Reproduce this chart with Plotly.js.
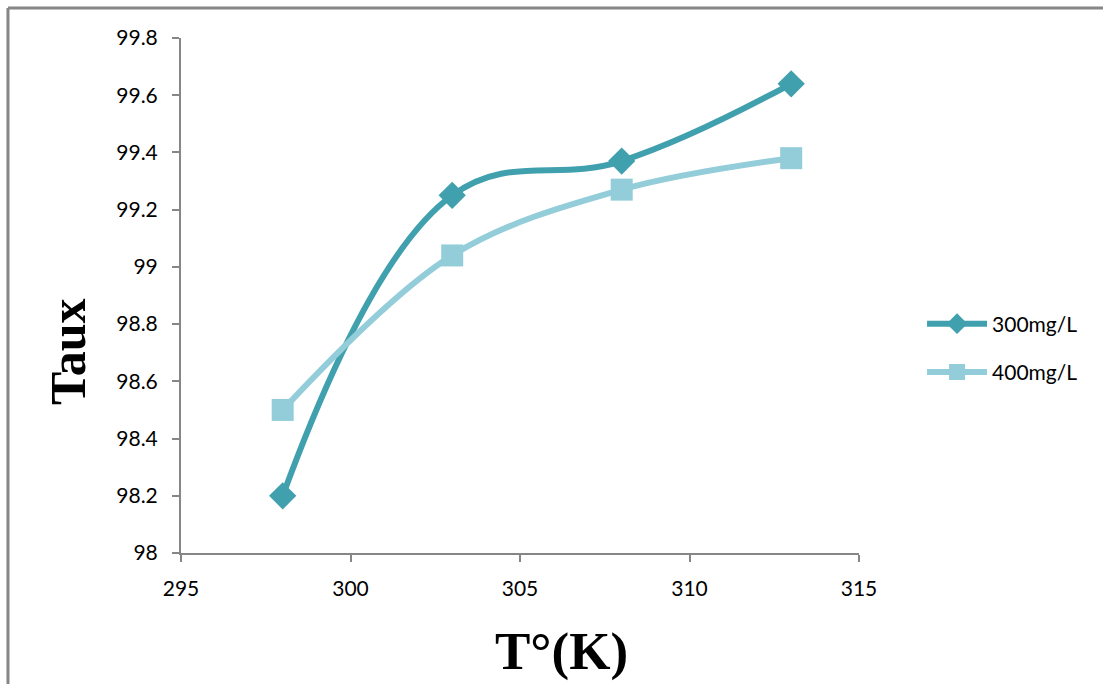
<!DOCTYPE html>
<html>
<head>
<meta charset="utf-8">
<script src="https://cdn.plot.ly/plotly-3.0.1.min.js"></script>
<style>
  html, body { margin: 0; padding: 0; background: #ffffff; }
  #chart { width: 1103px; height: 684px; }
</style>
</head>
<body>
<div id="chart"></div>
<script>
// Temperatures (K) and removal rate (%) for each initial concentration
const temperatures = [298, 303, 308, 313];
const taux300 = [98.2, 99.25, 99.37, 99.64];
const taux400 = [98.5, 99.04, 99.27, 99.38];
const seriesNames = ['300mg/L', '400mg/L'];
const xTitle = 'T°(K)';
const yTitle = 'Taux';

const tickFont = { family: 'Lato, "Open Sans", sans-serif', size: 21, color: '#000000' };
const titleFont = { family: '"Liberation Serif", "Times New Roman", serif', color: '#000000', weight: 'bold' };
const axisGray = '#868686';

const traces = [
  {
    x: temperatures, y: taux300, name: seriesNames[0], legendgroup: 'a',
    type: 'scatter', mode: 'lines+markers',
    line: { color: '#41A0AE', width: 6, shape: 'spline', smoothing: 1.15 },
    marker: { symbol: 'diamond', size: 21, color: '#41A0AE' }
  },
  {
    x: temperatures, y: taux400, name: seriesNames[1], legendgroup: 'b',
    type: 'scatter', mode: 'lines+markers',
    line: { color: '#93CDDA', width: 6, shape: 'spline', smoothing: 1 },
    marker: { symbol: 'square', size: 22, color: '#93CDDA' }
  }
];

const layout = {
  width: 1103, height: 684,
  margin: { l: 181, r: 244, t: 38, b: 131 },
  paper_bgcolor: '#ffffff', plot_bgcolor: '#ffffff',
  showlegend: true,
  xaxis: {
    range: [295, 315], dtick: 5, tick0: 295,
    showgrid: false, zeroline: false,
    showline: true, linecolor: axisGray, linewidth: 2,
    ticks: 'outside', ticklen: 7, tickwidth: 2, tickcolor: axisGray,
    tickfont: tickFont, ticklabelstandoff: 9
  },
  yaxis: {
    range: [98, 99.8], dtick: 0.2, tick0: 98,
    showgrid: false, zeroline: false,
    showline: true, linecolor: axisGray, linewidth: 2,
    ticks: 'outside', ticklen: 7, tickwidth: 2, tickcolor: axisGray,
    tickfont: tickFont, ticklabelstandoff: 10,
    tickformat: '~r'
  },
  legend: {
    x: 1.093, y: 0.398, xanchor: 'left', yanchor: 'middle',
    font: { family: 'Lato, "Open Sans", sans-serif', size: 21, color: '#000000' },
    itemwidth: 60, tracegroupgap: 18,
    bgcolor: 'rgba(0,0,0,0)'
  },
  annotations: [
    { text: xTitle, xref: 'paper', yref: 'paper', x: (561 - 181) / 678, y: (553 - 651) / 515,
      xanchor: 'center', yanchor: 'middle', showarrow: false,
      font: Object.assign({ size: 53 }, titleFont) },
    { text: yTitle, xref: 'paper', yref: 'paper', x: (68 - 181) / 678, y: (553 - 352) / 515,
      xanchor: 'center', yanchor: 'middle', showarrow: false, textangle: -90,
      font: Object.assign({ size: 50 }, titleFont) }
  ],
  shapes: [
    // outer frame: left and top edges
    { type: 'line', xref: 'paper', yref: 'paper', x0: -0.2552, x1: -0.2552, y0: -0.26, y1: 1.0583,
      line: { color: axisGray, width: 3 } },
    { type: 'line', xref: 'paper', yref: 'paper', x0: -0.2552, x1: 1.37, y0: 1.0583, y1: 1.0583,
      line: { color: axisGray, width: 3 } }
  ]
};

Plotly.newPlot('chart', traces, layout, { displayModeBar: false, staticPlot: true });
</script>
</body>
</html>
